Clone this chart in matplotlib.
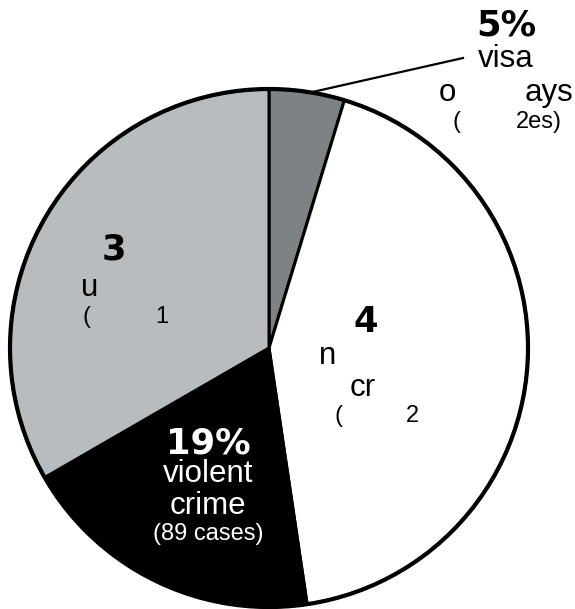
import matplotlib.pyplot as plt
from matplotlib.patches import Circle

# pie data: counts of cases per category (clockwise from 12 o'clock)
categories = ['visa overstays', 'nonviolent crime', 'violent crime', 'unknown']
cases = [22, 201, 89, 156]
colors = ['#7d8285', '#ffffff', '#000000', '#b8bcbf']

total = sum(cases)
pct = [round(100 * c / total) for c in cases]

W, H = 575, 609
fig = plt.figure(figsize=(W / 100, H / 100), dpi=100)
ax = fig.add_axes([0, 0, 1, 1])

# work in pixel coordinates (y measured from top -> convert)
def py(y):
    return H - y

cx, cy, r = 269, py(348), 259
ax.pie(cases, colors=colors, startangle=90, counterclock=False,
       center=(cx, cy), radius=r,
       wedgeprops=dict(edgecolor='black', linewidth=2.2))
ax.add_patch(Circle((cx, cy), r, fill=False, edgecolor='black', linewidth=3.0))
ax.set_xlim(0, W)
ax.set_ylim(0, H)
ax.set_aspect('equal')
ax.axis('off')

big = dict(family='DejaVu Sans', fontweight='bold', fontsize=25.5, va='baseline')
mid = dict(family='Liberation Sans', fontsize=22.5, va='baseline')
small = dict(family='Liberation Sans', fontsize=17, va='baseline')

# visa overstays (label outside with leader line)
ax.plot([308, 463], [py(93), py(58)], color='black', lw=1.6)
ax.text(506, py(35), f'{pct[0]}%', ha='center', **big)
ax.text(506, py(67), 'visa', ha='center', **mid)
ax.text(439, py(101), 'o', ha='left', **mid)
ax.text(573, py(101), 'ays', ha='right', **mid)
ax.text(452, py(128), '(', ha='left', **small)
ax.text(562, py(128), '2es)', ha='right', **small)

# unknown
ax.text(102, py(259), str(pct[3])[0], ha='left', **big)
ax.text(81, py(296), 'u', ha='left', **mid)
ax.text(82, py(323), '(', ha='left', **small)
ax.text(155, py(323), '1', ha='left', **small)

# nonviolent crime
ax.text(353, py(332), str(pct[1])[0], ha='left', **big)
ax.text(319, py(364), 'n', ha='left', **mid)
ax.text(350, py(396), 'cr', ha='left', **mid)
ax.text(334, py(422), '(', ha='left', **small)
ax.text(406, py(422), '2', ha='left', **small)

# violent crime (white on black)
ax.text(208, py(453), f'{pct[2]}%', ha='center', color='white', **big)
ax.text(208, py(482), 'violent', ha='center', color='white', **mid)
ax.text(208, py(514), 'crime', ha='center', color='white', **mid)
ax.text(208, py(540), f'({cases[2]} cases)', ha='center', color='white', **small)

fig.savefig('out.png', dpi=100)
